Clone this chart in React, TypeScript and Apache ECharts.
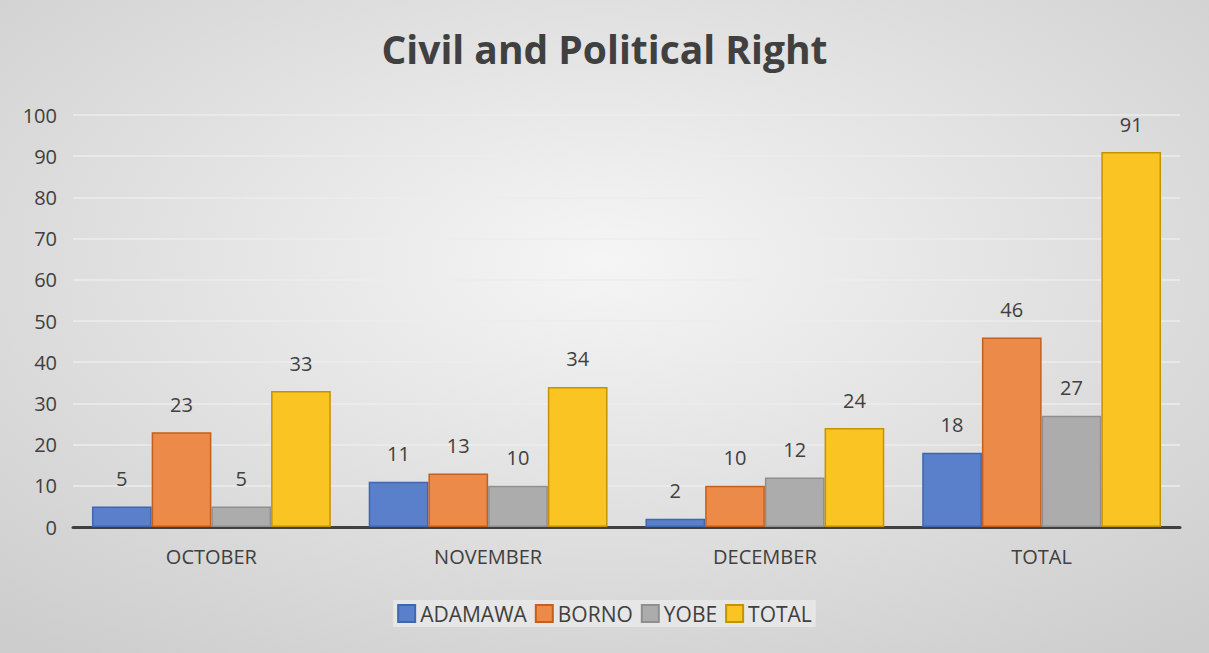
import React, { useEffect, useRef } from "react";
import * as echarts from "echarts";

const categories = ["OCTOBER", "NOVEMBER", "DECEMBER", "TOTAL"];
const adamawa = [5, 11, 2, 18];
const borno = [23, 13, 10, 46];
const yobe = [5, 10, 12, 27];
const total = [33, 34, 24, 91];
const yTicks = [0, 100, 10];

const FONT = "Open Sans";
const TEXT = "#404040";

export default function App() {
  const ref = useRef<HTMLDivElement>(null);
  useEffect(() => {
    document.body.style.margin = "0";
    const chart = echarts.init(ref.current!, null, { renderer: "svg" });
    const mk = (name: string, data: number[], color: string, border: string) => ({
      name,
      type: "bar",
      data,
      barGap: "0%",
      barCategoryGap: "13.7%",
      itemStyle: { color, borderColor: border, borderWidth: 1.5 },
      label: {
        show: true,
        position: "top",
        distance: 18,
        color: TEXT,
        fontFamily: FONT,
        fontSize: 20,
      },
    });
    chart.setOption({
      animation: false,
      backgroundColor: {
        type: "radial",
        x: 0.5,
        y: 0.4,
        r: 0.75,
        colorStops: [
          { offset: 0, color: "#f5f5f5" },
          { offset: 1, color: "#cdcdcd" },
        ],
      },
      title: {
        text: "Civil and Political Right",
        left: "center",
        top: 24,
        textStyle: { fontFamily: FONT, fontSize: 39, fontWeight: "bold", color: TEXT },
      },
      legend: {
        bottom: 26,
        left: "center",
        itemWidth: 17,
        itemHeight: 17,
        itemGap: 8,
        icon: "rect",
        backgroundColor: "rgba(240,240,240,0.6)",
        padding: [3, 4],
        textStyle: { fontFamily: FONT, fontSize: 21, color: TEXT },
        data: ["ADAMAWA", "BORNO", "YOBE", "TOTAL"],
      },
      grid: { left: 73, right: 29, top: 115, bottom: 126, containLabel: false },
      xAxis: {
        type: "category",
        data: categories,
        axisTick: { show: false },
        axisLine: { lineStyle: { color: "#404040", width: 3 } },
        axisLabel: { color: TEXT, fontFamily: FONT, fontSize: 20, margin: 19 },
      },
      yAxis: {
        type: "value",
        min: yTicks[0],
        max: yTicks[1],
        interval: yTicks[2],
        axisLine: { show: false },
        axisTick: { show: false },
        axisLabel: { color: TEXT, fontFamily: FONT, fontSize: 20, margin: 16 },
        splitLine: { lineStyle: { color: "#ececec", width: 1.5 } },
      },
      series: [
        mk("ADAMAWA", adamawa, "#5a80cc", "#3f66b2"),
        mk("BORNO", borno, "#ec8a4a", "#c55f1c"),
        mk("YOBE", yobe, "#acacac", "#8f8f8f"),
        mk("TOTAL", total, "#fac422", "#c39400"),
      ],
    });
    return () => chart.dispose();
  }, []);
  return <div ref={ref} style={{ width: 1209, height: 653 }} />;
}
